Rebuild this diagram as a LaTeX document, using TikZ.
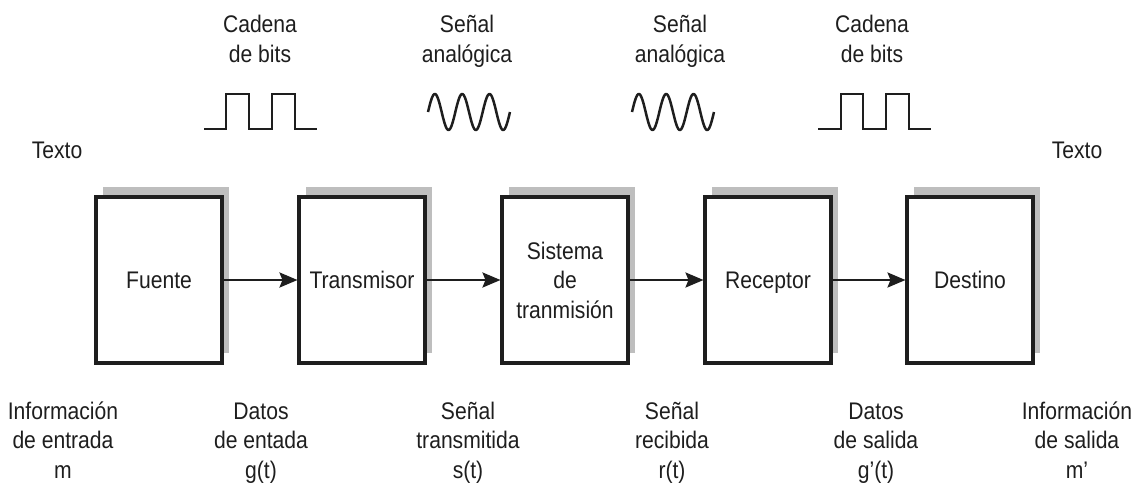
\documentclass[tikz,border=0pt]{standalone}
\usepackage{fontspec}
\setmainfont[FakeStretch=0.88]{Liberation Sans}
\usetikzlibrary{arrows.meta,shadows}
\definecolor{ink}{HTML}{1E1E1E}
\definecolor{shade}{HTML}{BEBEBE}
\begin{document}
\begin{tikzpicture}[x=1pt,y=-1pt,
  font=\fontsize{24}{29.5}\selectfont,
  block/.style={draw=ink, line width=3.5pt, fill=white,
    minimum width=126pt, minimum height=166pt, inner sep=0pt, outer sep=0pt,
    align=center, text=ink,
    drop shadow={shadow xshift=7pt, shadow yshift=10pt, fill=shade, opacity=1}},
  oneline/.style={text height=17pt, text depth=0pt},
  lbl/.style={align=center, inner sep=0pt, text=ink, anchor=base},
  link/.style={draw=ink, line width=2.5pt, shorten >=1.5pt,
    -{Stealth[length=18pt,width=15pt,inset=3pt]}},
  wave/.style={draw=ink, line width=2.5pt, line join=miter}]
\useasboundingbox (0,0) rectangle (1136,488);

% processing chain
\node[block, oneline] (b1) at (159,280) {Fuente};
\node[block, oneline] (b2) at (362,280) {Transmisor};
\node[block] (b3) at (565,280) {\fontsize{24}{31}\selectfont Sistema\\de\\tranmisión};
\node[block, oneline] (b4) at (768,280) {Receptor};
\node[block, oneline] (b5) at (970,280) {Destino};

\draw[link] (b1.east) -- (b2.west);
\draw[link] (b2.east) -- (b3.west);
\draw[link] (b3.east) -- (b4.west);
\draw[link] (b4.east) -- (b5.west);

% signal captions (anchored on the baseline of their last line)
\node[lbl] (c1) at (260,62) {Cadena\\de bits};
\node[lbl] (c2) at (467,62) {Señal\\analógica};
\node[lbl] (c3) at (680,62) {Señal\\analógica};
\node[lbl] (c4) at (872,62) {Cadena\\de bits};

\node[lbl] (t1) at (57,158) {Texto};
\node[lbl] (t2) at (1077,158) {Texto};

% quantities along the chain
\node[lbl] (q1) at (63,478) {Información\\de entrada\\m};
\node[lbl] (q2) at (261,478) {Datos\\de entada\\g(t)};
\node[lbl] (q3) at (468,478) {Señal\\transmitida\\s(t)};
\node[lbl] (q4) at (672,478) {Señal\\recibida\\r(t)};
\node[lbl] (q5) at (876,478) {Datos\\de salida\\g’(t)};
\node[lbl] (q6) at (1077,478) {Información\\de salida\\m’};

% bit streams
\draw[wave] (204,129) -- (226,129) -- (226,94) -- (249,94) -- (249,129)
  -- (272,129) -- (272,94) -- (295,94) -- (295,129) -- (317,129);
\draw[wave] (818,129) -- (841,129) -- (841,94) -- (863,94) -- (863,129)
  -- (886,129) -- (886,94) -- (909,94) -- (909,129) -- (931,129);

% analog carriers
\draw[wave, line join=round] plot[domain=0:6*pi, samples=120, smooth]
  ({428+\x/(6*pi)*82}, {112-18*sin(\x r)});
\draw[wave, line join=round] plot[domain=0:6*pi, samples=120, smooth]
  ({632+\x/(6*pi)*82}, {112-18*sin(\x r)});
\end{tikzpicture}
\end{document}
